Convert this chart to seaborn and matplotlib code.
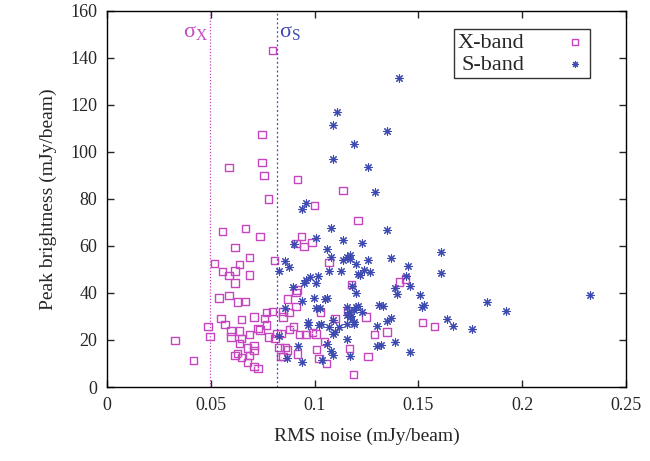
import matplotlib
matplotlib.use("Agg")
import matplotlib.pyplot as plt
import seaborn as sns
import pandas as pd

# ---- data ----
x_rms = [0.0796, 0.0746, 0.0587, 0.0746, 0.0756, 0.0917, 0.0778, 0.0999, 0.0557, 0.0666,
         0.0737, 0.0937, 0.0987, 0.0949, 0.0909, 0.0616, 0.0687, 0.0807, 0.0517, 0.0637,
         0.0557, 0.0616, 0.0587, 0.0687, 0.0616, 0.0915, 0.0909, 0.0538, 0.0587, 0.0628,
         0.0666, 0.0868, 0.0909, 0.0549, 0.0568, 0.0647, 0.0708, 0.0758, 0.0767, 0.0798,
         0.0847, 0.0876, 0.0847, 0.0767, 0.0727, 0.0737, 0.0486, 0.0496, 0.0327, 0.0416,
         0.0597, 0.0637, 0.0597, 0.0647, 0.0687, 0.0777, 0.0809, 0.0838, 0.0818, 0.0878,
         0.0897, 0.0928, 0.0958, 0.0989, 0.1006, 0.0637, 0.0677, 0.0708, 0.0708, 0.0687,
         0.0616, 0.0628, 0.0647, 0.0677, 0.0708, 0.0727, 0.0828, 0.0857, 0.0868, 0.0838,
         0.0847, 0.0918, 0.1008, 0.1021, 0.1136, 0.1209, 0.1069, 0.1178, 0.1408, 0.1438,
         0.1027, 0.1157, 0.1098, 0.1247, 0.1519, 0.1578, 0.1288, 0.1348, 0.1048, 0.1169,
         0.1058, 0.1257, 0.1188]
x_peak = [143.0, 107.3, 93.2, 95.5, 89.8, 88.3, 80.0, 77.2, 66.2, 67.3,
          63.9, 64.0, 61.5, 59.7, 60.9, 59.4, 55.0, 53.9, 52.6, 52.0,
          49.0, 49.3, 47.5, 47.6, 44.2, 41.2, 40.1, 37.8, 39.0, 36.1,
          36.4, 37.4, 34.1, 29.2, 26.6, 28.8, 29.8, 29.2, 31.6, 32.2,
          32.2, 31.6, 29.8, 26.4, 24.8, 24.2, 25.8, 21.5, 19.8, 11.3,
          23.8, 23.8, 21.3, 20.7, 22.4, 21.3, 20.7, 22.8, 22.8, 24.5,
          25.6, 22.4, 22.4, 23.1, 22.5, 18.4, 16.6, 17.7, 15.4, 13.5,
          13.5, 14.3, 12.6, 10.5, 8.8, 7.9, 16.9, 16.9, 15.7, 12.9,
          13.0, 14.0, 16.0, 12.2, 83.5, 70.7, 53.0, 43.7, 44.6, 45.9,
          31.6, 32.4, 29.2, 29.8, 27.3, 25.8, 22.4, 23.4, 19.4, 16.4,
          10.1, 13.0, 5.2]

s_rms = [0.1408, 0.1109, 0.1088, 0.1348, 0.1188, 0.1088, 0.1259, 0.1289, 0.0958, 0.0937,
         0.1077, 0.1348, 0.1008, 0.1138, 0.1228, 0.0899, 0.1058, 0.1608, 0.1077, 0.1169,
         0.1157, 0.1169, 0.1138, 0.1198, 0.1259, 0.1368, 0.0857, 0.0878, 0.1448, 0.0828,
         0.1067, 0.1129, 0.1209, 0.1218, 0.1238, 0.1268, 0.1608, 0.0976, 0.0958, 0.0947,
         0.1008, 0.1016, 0.1438, 0.0897, 0.1458, 0.1178, 0.1389, 0.1398, 0.1198, 0.0937,
         0.0997, 0.1058, 0.1048, 0.1507, 0.1008, 0.0857, 0.1027, 0.1157, 0.1198, 0.1209,
         0.1188, 0.1164, 0.1228, 0.1173, 0.1308, 0.1329, 0.1519, 0.1528, 0.1829, 0.1920,
         0.2329, 0.1639, 0.1668, 0.1758, 0.0968, 0.0968, 0.1021, 0.1088, 0.1157, 0.1188,
         0.1188, 0.1169, 0.1157, 0.1029, 0.1067, 0.1117, 0.1348, 0.1368, 0.1299, 0.1088,
         0.1098, 0.1157, 0.1058, 0.1299, 0.1318, 0.1389, 0.1077, 0.1088, 0.1169, 0.1037,
         0.1459, 0.0828, 0.0918, 0.0937, 0.0868]
s_peak = [131.3, 116.9, 111.5, 109.0, 103.3, 97.0, 93.5, 83.0, 78.3, 75.8,
          67.5, 66.7, 63.5, 62.6, 61.3, 60.7, 58.5, 57.2, 55.4, 56.1,
          55.1, 54.3, 53.8, 52.3, 54.0, 54.7, 53.6, 51.1, 51.3, 49.5,
          49.2, 49.4, 47.9, 47.7, 49.7, 48.8, 48.5, 46.6, 45.5, 44.1,
          44.3, 47.2, 47.2, 42.6, 43.1, 43.1, 41.9, 39.5, 40.1, 36.7,
          37.8, 38.0, 37.3, 39.0, 33.6, 33.6, 33.4, 33.9, 33.9, 34.3,
          32.7, 32.1, 31.8, 30.2, 34.9, 34.6, 34.1, 34.9, 36.0, 32.3,
          39.1, 29.0, 25.8, 24.7, 27.8, 26.2, 26.5, 28.6, 26.9, 27.6,
          26.7, 29.8, 30.6, 26.6, 25.6, 25.6, 28.2, 29.2, 26.1, 22.5,
          23.5, 20.5, 18.4, 17.6, 17.7, 19.1, 15.2, 13.7, 13.3, 11.6,
          14.7, 21.8, 17.6, 10.8, 12.5]

band_labels = ["X-band", "S-band"]
sigma_x = 0.0496
sigma_s = 0.0817
xticks = [0, 0.05, 0.1, 0.15, 0.2, 0.25]
xtick_labels = ["0", "0.05", "0.1", "0.15", "0.2", "0.25"]
yticks = [0, 20, 40, 60, 80, 100, 120, 140, 160]

df_x = pd.DataFrame({"rms": x_rms, "peak": x_peak})
df_s = pd.DataFrame({"rms": s_rms, "peak": s_peak})

sns.set_style("ticks")
plt.rcParams["font.family"] = ["Liberation Serif", "DejaVu Serif"]
plt.rcParams["mathtext.fontset"] = "custom"
plt.rcParams["mathtext.rm"] = "Liberation Serif"
plt.rcParams["mathtext.it"] = "Liberation Serif"

col_x = "#c447bf"
col_s = "#3c4ab2"

fig = plt.figure(figsize=(6.5, 4.61), dpi=100)
ax = fig.add_axes([0.165, 0.1605, 0.798, 0.8163])

sns.scatterplot(data=df_x, x="rms", y="peak", ax=ax, marker="s", s=28,
                facecolor="none", edgecolor=col_x, linewidth=1.0, label=band_labels[0])
sns.scatterplot(data=df_x, x="rms", y="peak", ax=ax, marker=".", s=2,
                color=col_x, linewidth=0, legend=False)
sns.scatterplot(data=df_s, x="rms", y="peak", ax=ax, marker=(8, 2, 0), s=30,
                color=col_s, linewidth=0.8, label=band_labels[1])

ax.axvline(sigma_x, color=col_x, linestyle=(0, (1, 1.5)), linewidth=0.9)
ax.axvline(sigma_s, color=col_s, linestyle=(0, (1.5, 2)), linewidth=0.9)
ax.text(sigma_x - 0.0012, 146.5, r"$\mathrm{σ}_{\mathrm{X}}$", color=col_x, fontsize=16,
        ha="right", va="bottom")
ax.text(sigma_s + 0.0012, 146.5, r"$\mathrm{σ}_{\mathrm{S}}$", color=col_s, fontsize=16,
        ha="left", va="bottom")

ax.set_xlim(0, 0.25)
ax.set_ylim(0, 160)
ax.set_xticks(xticks)
ax.set_xticklabels(xtick_labels)
ax.set_yticks(yticks)
ax.tick_params(direction="in", top=True, right=True, labelsize=13, length=5, width=1,
               pad=7)
for sp in ax.spines.values():
    sp.set_visible(True)
    sp.set_linewidth(1.0)
    sp.set_color("black")
ax.set_xlabel("RMS noise (mJy/beam)", fontsize=14, labelpad=10)
ax.set_ylabel("Peak brightness (mJy/beam)", fontsize=14, labelpad=10)

leg = ax.legend(loc="upper right", bbox_to_anchor=(0.93, 0.951), markerfirst=False,
                fontsize=16, frameon=True, fancybox=False, edgecolor="black",
                handletextpad=1.8, borderpad=0.15, labelspacing=0.05,
                handlelength=1.0, borderaxespad=0, markerscale=0.8)
leg.get_frame().set_linewidth(1.0)

fig.savefig("out.png", dpi=100)
